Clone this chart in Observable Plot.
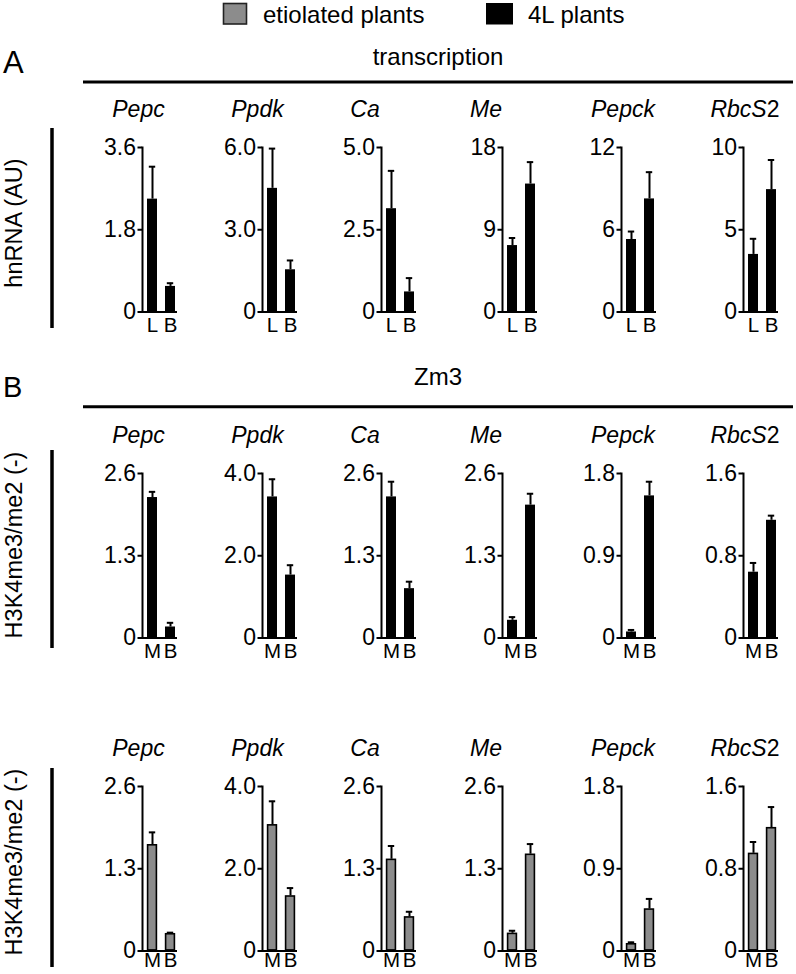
<!DOCTYPE html>
<html><head><meta charset="utf-8">
<script src="https://cdn.jsdelivr.net/npm/d3@7"></script>
<script src="https://cdn.jsdelivr.net/npm/@observablehq/plot@0.6"></script>
<style>
body{margin:0;background:#fff;}
#root{position:relative;width:796px;height:974px;font-family:"Liberation Sans",Arial,sans-serif;overflow:hidden;}
#root svg{position:absolute;overflow:visible;}
</style></head><body><div id="root"></div>
<script>
// ---------- data ----------
const genes = ["Pepc", "Ppdk", "Ca", "Me", "Pepck", "RbcS2"];
const legendLabels = ["etiolated plants", "4L plants"];
const panelTitles = ["transcription", "Zm3"];
const yTitles = ["hnRNA (AU)", "H3K4me3/me2 (-)", "H3K4me3/me2 (-)"];

// row A: transcription, 4L plants
const catsA = ["L", "B"];
const maxA = [3.6, 6.0, 5.0, 18, 12, 10];
const tickLabelsA = [["0","1.8","3.6"],["0","3.0","6.0"],["0","2.5","5.0"],["0","9","18"],["0","6","12"],["0","5","10"]];
const valA_L = [2.47, 4.51, 3.14, 7.27, 5.29, 3.50];
const errA_L = [3.18, 5.96, 4.29, 8.10, 5.87, 4.45];
const valA_B = [0.56, 1.54, 0.61, 14.0, 8.25, 7.44];
const errA_B = [0.63, 1.88, 1.03, 16.4, 10.2, 9.24];

// rows B/C: Zm3 H3K4me3/me2
const catsB = ["M", "B"];
const maxB = [2.6, 4.0, 2.6, 2.6, 1.8, 1.6];
const tickLabelsB = [["0","1.3","2.6"],["0","2.0","4.0"],["0","1.3","2.6"],["0","1.3","2.6"],["0","0.9","1.8"],["0","0.8","1.6"]];
// 4L plants
const valB_M = [2.22, 3.43, 2.23, 0.28, 0.066, 0.64];
const errB_M = [2.31, 3.86, 2.47, 0.33, 0.088, 0.73];
const valB_B = [0.174, 1.53, 0.78, 2.10, 1.555, 1.145];
const errB_B = [0.24, 1.77, 0.89, 2.28, 1.71, 1.19];
// etiolated plants
const valC_M = [1.68, 3.07, 1.45, 0.28, 0.08, 0.95];
const errC_M = [1.875, 3.64, 1.66, 0.32, 0.095, 1.06];
const valC_B = [0.274, 1.34, 0.54, 1.53, 0.46, 1.20];
const errC_B = [0.29, 1.53, 0.62, 1.69, 0.57, 1.40];

// ---------- layout ----------
const FONT = '"Liberation Sans", Arial, sans-serif';
const GRAY = "#8c8c8c";
const axisX = [141.7, 261.7, 381, 501.7, 620.7, 743.3];
const geneCx = [138.5, 257.5, 365, 486, 623, 745];
const rows = [
  {top: 146.7, pad: 5, cats: catsA, max: maxA, ticks: tickLabelsA, v0: valA_L, e0: errA_L, v1: valA_B, e1: errA_B, fill: "#000", stroke: "#000", sw: 0},
  {top: 472.7, pad: 5, cats: catsB, max: maxB, ticks: tickLabelsB, v0: valB_M, e0: errB_M, v1: valB_B, e1: errB_B, fill: "#000", stroke: "#000", sw: 0},
  {top: 786, pad: 1.5, cats: catsB, max: maxB, ticks: tickLabelsB, v0: valC_M, e0: errC_M, v1: valC_B, e1: errC_B, fill: GRAY, stroke: "#000", sw: 1.6}
];
const IH = 164.5, IW = 35, ML = 54, MR = 8, MT = 16, MB = 32;

const root = d3.select("#root");

// ---------- annotations ----------
const ann = root.append("svg").attr("width", 796).attr("height", 974)
  .style("left", "0px").style("top", "0px")
  .attr("font-family", FONT).attr("font-size", 24);

// legend
ann.append("rect").attr("x", 223.5).attr("y", 3.5).attr("width", 23).attr("height", 20.5)
  .attr("fill", GRAY).attr("stroke", "#222").attr("stroke-width", 1.6);
ann.append("text").attr("x", 263).attr("y", 22.5).text(legendLabels[0]);
ann.append("rect").attr("x", 486).attr("y", 3).attr("width", 27).attr("height", 21.5).attr("fill", "#000");
ann.append("text").attr("x", 528).attr("y", 22.5).text(legendLabels[1]);

// panel letters, titles, header lines
ann.append("text").attr("x", 3).attr("y", 73).attr("font-size", 31).text("A");
ann.append("text").attr("x", 3).attr("y", 397).attr("font-size", 29).text("B");
ann.append("text").attr("x", 438).attr("y", 65).attr("text-anchor", "middle").text(panelTitles[0]);
ann.append("text").attr("x", 438).attr("y", 385).attr("text-anchor", "middle").text(panelTitles[1]);
[82, 406.7].forEach(y => ann.append("line").attr("x1", 83).attr("x2", 793).attr("y1", y).attr("y2", y)
  .attr("stroke", "#000").attr("stroke-width", 3));

// left vertical bars + y titles
const vbars = [[128, 328, 223], [450, 648, 545], [768, 967, 862]];
vbars.forEach(([y1, y2, cy], i) => {
  ann.append("line").attr("x1", 52).attr("x2", 52).attr("y1", y1).attr("y2", y2)
    .attr("stroke", "#000").attr("stroke-width", 3.5);
  ann.append("text").attr("transform", `translate(21.5,${cy}) rotate(-90)`)
    .attr("text-anchor", "middle").attr("font-size", 23.5).text(yTitles[i]);
});

// gene labels
rows.forEach(r => {
  genes.forEach((g, gi) => {
    const t = ann.append("text").attr("x", geneCx[gi]).attr("y", r.top - 30)
      .attr("text-anchor", "middle").attr("font-size", 23);
    const m = g.match(/^(.*?)(\d*)$/);
    t.append("tspan").attr("font-style", "italic").text(m[1]);
    if (m[2]) t.append("tspan").text(m[2]);
  });
});

// ---------- small bar charts ----------
rows.forEach(r => {
  genes.forEach((g, gi) => {
    const data = [
      {c: r.cats[0], v: r.v0[gi], e: r.e0[gi]},
      {c: r.cats[1], v: r.v1[gi], e: r.e1[gi]}
    ];
    const mx = r.max[gi];
    const tv = [0, mx / 2, mx];
    const tl = r.ticks[gi];
    const p = Plot.plot({
      width: ML + IW + MR, height: MT + IH + MB,
      marginLeft: ML, marginRight: MR, marginTop: MT, marginBottom: MB,
      style: {fontFamily: FONT, fontSize: "23px", color: "#000", background: "transparent", overflow: "visible"},
      x: {type: "band", domain: r.cats, paddingInner: 0.45, paddingOuter: 0.19, align: 0.74},
      y: {domain: [0, mx]},
      marks: [
        Plot.barY(data, {x: "c", y: "v", fill: r.fill, stroke: r.stroke, strokeWidth: r.sw,
          inset: r.sw ? 0.6 : 0}),
        Plot.ruleX(data, {x: "c", y1: "v", y2: "e", stroke: "#000", strokeWidth: 2}),
        Plot.tickY(data, {x: "c", y: "e", stroke: "#000", strokeWidth: 2, insetLeft: 1.8, insetRight: 1.8}),
        Plot.frame({anchor: "left", stroke: "#000", strokeWidth: 2}),
        Plot.ruleY([0], {stroke: "#000", strokeWidth: 2}),
        Plot.axisY({ticks: tv, tickFormat: d => tl[tv.indexOf(d)], tickSize: 4.5, tickPadding: 2,
          strokeWidth: 2, label: null}),
        Plot.axisX({tickSize: 0, tickPadding: r.pad, label: null, fontSize: 20.5})
      ]
    });
    p.style.left = (axisX[gi] - ML) + "px";
    p.style.top = (r.top - MT) + "px";
    root.node().appendChild(p);
  });
});
</script>
</body></html>
